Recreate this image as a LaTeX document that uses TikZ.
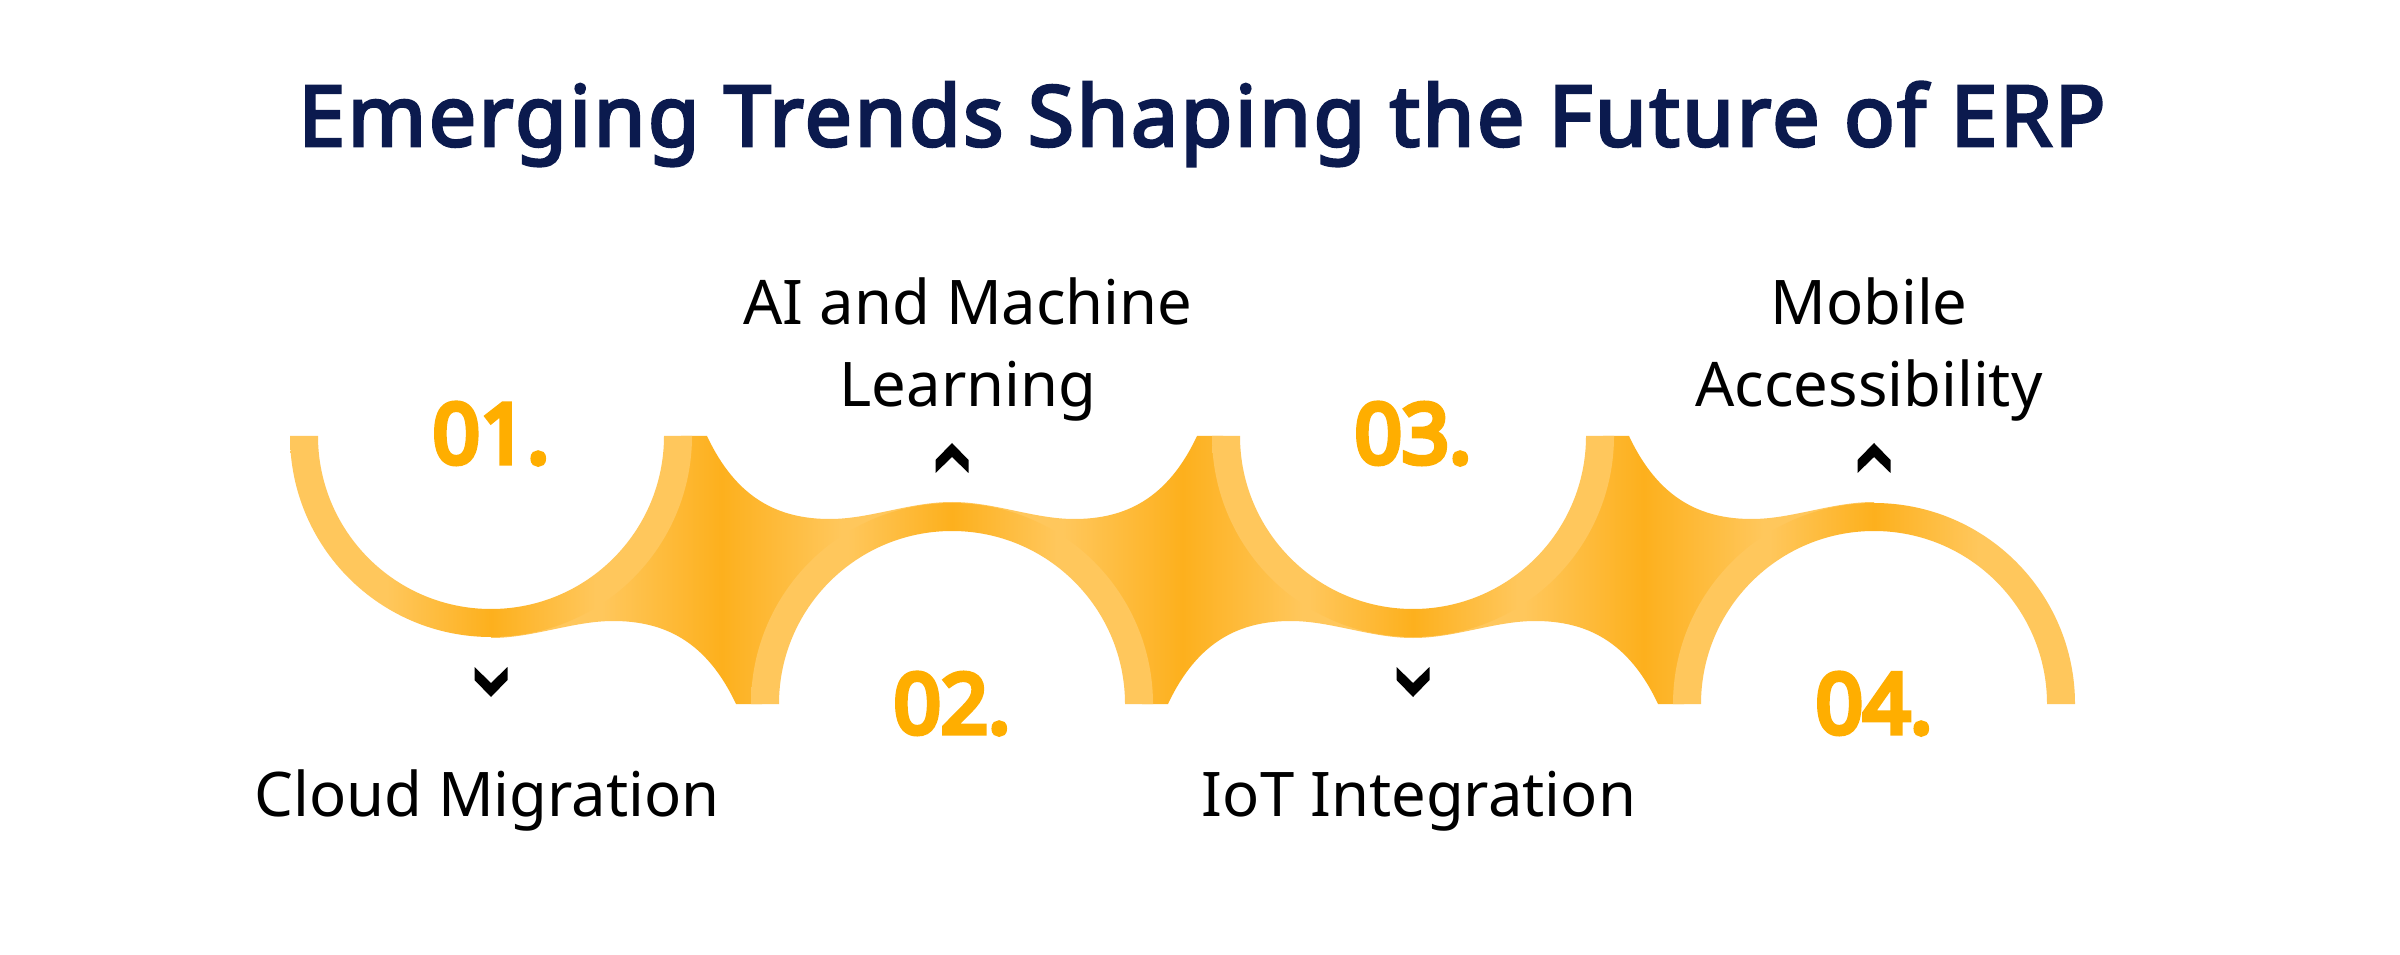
\documentclass[tikz,border=0pt]{standalone}
\usepackage{fontspec}
\setmainfont{Noto Sans}
\newfontfamily\headfont{Noto Sans}[FakeBold=3.4, LetterSpace=3.0]
\newfontfamily\numfont{Noto Sans}[FakeBold=6.5]
\usepackage{xcolor}
\usepackage{tikz}
\usetikzlibrary{calc}
\definecolor{ribbonlight}{RGB}{255,199,92}
\definecolor{ribbongold}{RGB}{253,176,29}
\definecolor{numgold}{RGB}{255,174,0}
\definecolor{titlenavy}{RGB}{11,26,78}
\pgfdeclarehorizontalshading{ribbon}{100bp}{color(0bp)=(ribbonlight); color(37bp)=(ribbonlight); color(50bp)=(ribbongold); color(63bp)=(ribbonlight); color(100bp)=(ribbonlight)}

\begin{document}
\begin{tikzpicture}[
        x=0.01cm, y=0.01cm,
        band/.style = {shade, shading=ribbon},
        link/.style = {shade, shading=ribbon},
        chevron/.style = {fill=black},
        headline/.style = {font=\headfont\fontsize{23.9}{28}\selectfont\bfseries, text=titlenavy, anchor=base, inner sep=0pt},
        num/.style = {font=\numfont\fontsize{23.5}{28}\selectfont\bfseries, text=numgold, anchor=base, inner sep=0pt},
        trend/.style = {font=\fontsize{17.5}{23.6}\selectfont, align=center, anchor=base, inner sep=0pt}
    ]

        \fill[white] (0,0) rectangle (2400,954);
        \useasboundingbox (0,0) rectangle (2400,954);

        \coordinate (c1) at (491,518);
        \coordinate (c2) at (952,250);
        \coordinate (c3) at (1413,518);
        \coordinate (c4) at (1874,250);

        \node (head) [headline] at (1202,808) {Emerging Trends Shaping the Future of ERP};

        % connecting pieces
        \shade [link] (707,518) .. controls (737,454) and (780,435) .. (830,435) .. controls (870,435) and (910,452) .. (952,452)
            -- (952,440) arc[start angle=90, end angle=180, radius=190] -- (736,250)
            .. controls (706,314) and (663,333) .. (613,333) .. controls (573,333) and (533,316) .. (491,316)
            -- (491,328) arc[start angle=270, end angle=360, radius=190] -- cycle;
        \shade [link] (952,452) .. controls (994,452) and (1034,435) .. (1074,435) .. controls (1124,435) and (1167,454) .. (1197,518)
            -- (1223,518) arc[start angle=180, end angle=270, radius=190] -- (1413,316)
            .. controls (1371,316) and (1331,333) .. (1291,333) .. controls (1241,333) and (1198,314) .. (1168,250)
            -- (1142,250) arc[start angle=0, end angle=90, radius=190] -- cycle;
        \shade [link] (1629,518) .. controls (1659,454) and (1702,435) .. (1752,435) .. controls (1792,435) and (1832,452) .. (1874,452)
            -- (1874,440) arc[start angle=90, end angle=180, radius=190] -- (1658,250)
            .. controls (1628,314) and (1585,333) .. (1535,333) .. controls (1495,333) and (1455,316) .. (1413,316)
            -- (1413,328) arc[start angle=270, end angle=360, radius=190] -- cycle;

        % rings
        \shade [band] (290,518) arc[start angle=180, end angle=360, radius=201] -- (664,518) arc[start angle=0, end angle=-180, radius=173] -- cycle;
        \shade [band] (751,250) arc[start angle=180, end angle=0, radius=201] -- (1125,250) arc[start angle=0, end angle=180, radius=173] -- cycle;
        \shade [band] (1212,518) arc[start angle=180, end angle=360, radius=201] -- (1586,518) arc[start angle=0, end angle=-180, radius=173] -- cycle;
        \shade [band] (1673,250) arc[start angle=180, end angle=0, radius=201] -- (2047,250) arc[start angle=0, end angle=180, radius=173] -- cycle;

        \node (num1) [num] at (c1 |- 0,491) {01.};
        \node (num2) [num] at (c2 |- 0,221) {02.};
        \node (num3) [num] at (c3 |- 0,491) {03.};
        \node (num4) [num] at (c4 |- 0,221) {04.};

        % chevrons
        \fill [chevron] ($(c1)+(-16.5,-231)$) -- ++(0,-13) -- ++(16.5,-17) -- ++(16.5,17) -- ++(0,13) -- ++(-16.5,-16) -- cycle;
        \fill [chevron] ($(c3)+(-16.5,-231)$) -- ++(0,-13) -- ++(16.5,-17) -- ++(16.5,17) -- ++(0,13) -- ++(-16.5,-16) -- cycle;
        \fill [chevron] ($(c2)+(-16.5,231)$) -- ++(0,13) -- ++(16.5,17) -- ++(16.5,-17) -- ++(0,-13) -- ++(-16.5,16) -- cycle;
        \fill [chevron] ($(c4)+(-16.5,231)$) -- ++(0,13) -- ++(16.5,17) -- ++(16.5,-17) -- ++(0,-13) -- ++(-16.5,16) -- cycle;

        \node (cloud) [trend] at (487,138) {Cloud Migration};
        \node (iot) [trend] at (1419,138) {IoT Integration};
        \node (aiml) [trend] at (968,547) {AI and Machine\\Learning};
        \node (mobile) [trend] at (1869,547) {Mobile\\Accessibility};

    \end{tikzpicture}
\end{document}
